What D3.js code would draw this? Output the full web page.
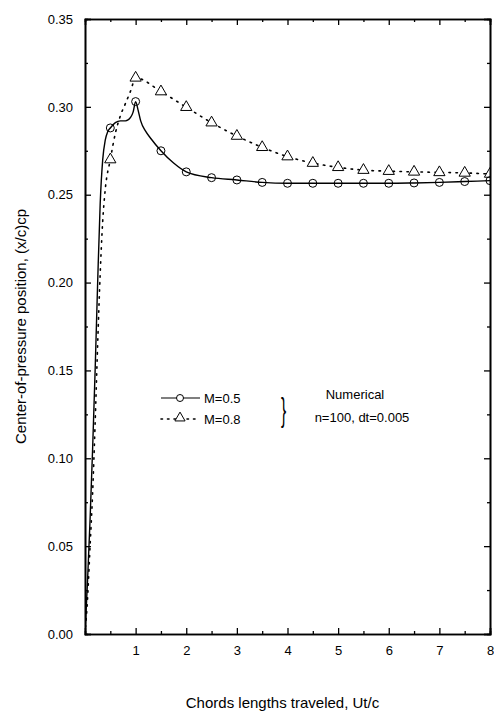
<!DOCTYPE html>
<html>
<head>
<meta charset="utf-8">
<script src="https://cdn.jsdelivr.net/npm/d3@7"></script>
<style>
  body { margin: 0; background: #fff; }
  text { font-family: "Liberation Sans", Arial, sans-serif; fill: #000; }
</style>
</head>
<body>
<div id="chart"></div>
<script>
// M=0.5 line (solid) and markers
var m05X = [0, 0.05, 0.1, 0.15, 0.2, 0.25, 0.3, 0.35, 0.4, 0.45, 0.5, 0.6, 0.7, 0.8, 0.9, 0.95, 1.0, 1.05, 1.1, 1.2, 1.3, 1.5, 1.75, 2, 2.5, 3, 3.5, 4, 4.5, 5, 5.5, 6, 6.5, 7, 7.5, 8];
var m05Y = [0, 0.03, 0.065, 0.105, 0.15, 0.2, 0.245, 0.27, 0.281, 0.286, 0.288, 0.291, 0.292, 0.292, 0.294, 0.297, 0.303, 0.298, 0.292, 0.286, 0.282, 0.275, 0.268, 0.263, 0.2597, 0.2584, 0.257, 0.2565, 0.2565, 0.2565, 0.2565, 0.2565, 0.2567, 0.257, 0.2575, 0.258];
// M=0.8 line (dotted) and markers
var m08X = [0, 0.05, 0.1, 0.15, 0.2, 0.25, 0.3, 0.35, 0.4, 0.5, 0.6, 0.7, 0.8, 0.9, 1.0, 1.5, 2, 2.5, 3, 3.5, 4, 4.5, 5, 5.5, 6, 6.5, 7, 7.5, 8];
var m08Y = [0, 0.02, 0.05, 0.08, 0.12, 0.165, 0.205, 0.235, 0.253, 0.27, 0.285, 0.295, 0.302, 0.309, 0.3165, 0.3087, 0.2998, 0.291, 0.2834, 0.277, 0.2717, 0.268, 0.2656, 0.264, 0.2634, 0.263, 0.2627, 0.2624, 0.2618];
var markerX = [0.5, 1, 1.5, 2, 2.5, 3, 3.5, 4, 4.5, 5, 5.5, 6, 6.5, 7, 7.5, 8];
var xTicks = [1, 2, 3, 4, 5, 6, 7, 8];
var yTicks = [0, 0.05, 0.1, 0.15, 0.2, 0.25, 0.3, 0.35];

var W = 494, H = 713;
var L = 85, R = 490, T = 19, B = 634;
var svg = d3.select("#chart").append("svg").attr("width", W).attr("height", H);

var x = d3.scaleLinear().domain([0, 8]).range([L, R]);
var y = d3.scaleLinear().domain([0, 0.35]).range([B, T]);

function pts(xs, ys) { return xs.map(function(v, i) { return [v, ys[i]]; }); }
var s05 = pts(m05X, m05Y), s08 = pts(m08X, m08Y);
function at(series, v) { return series.find(function(p) { return p[0] === v; }); }

svg.append("clipPath").attr("id", "c").append("rect")
  .attr("x", L).attr("y", T).attr("width", R - L).attr("height", B - T);

var line = d3.line().x(function(d) { return x(d[0]); }).y(function(d) { return y(d[1]); }).curve(d3.curveMonotoneX);
var g = svg.append("g").attr("clip-path", "url(#c)");
g.append("path").attr("d", line(s08)).attr("fill", "none").attr("stroke", "#000")
  .attr("stroke-width", 1.6).attr("stroke-dasharray", "1.5,5.5").attr("stroke-linecap", "round");
g.append("path").attr("d", line(s05)).attr("fill", "none").attr("stroke", "#000").attr("stroke-width", 1.4);

var tri = d3.symbol().type(d3.symbolTriangle).size(55);
g.selectAll(".tri").data(markerX.map(function(v) { return at(s08, v); })).enter().append("path")
  .attr("d", tri).attr("transform", function(d) { return "translate(" + x(d[0]) + "," + y(d[1]) + ")"; })
  .attr("fill", "#fff").attr("stroke", "#000").attr("stroke-width", 1);
g.selectAll(".circ").data(markerX.map(function(v) { return at(s05, v); })).enter().append("circle")
  .attr("cx", function(d) { return x(d[0]); }).attr("cy", function(d) { return y(d[1]); }).attr("r", 4)
  .attr("fill", "none").attr("stroke", "#000").attr("stroke-width", 1);

// axes, ticks inward on all four sides
var xMinor = d3.range(0.5, 8, 1);
var yMinor = d3.range(0.025, 0.35, 0.05);
svg.append("g").attr("transform", "translate(0," + B + ")").call(d3.axisBottom(x).tickValues(xTicks).tickSize(-6).tickPadding(12).tickFormat(d3.format("d")));
svg.append("g").attr("transform", "translate(0," + B + ")").call(d3.axisBottom(x).tickValues(xMinor).tickSize(-3).tickFormat(""));
svg.append("g").attr("transform", "translate(0," + T + ")").call(d3.axisTop(x).tickValues(xTicks).tickSize(-6).tickFormat(""));
svg.append("g").attr("transform", "translate(0," + T + ")").call(d3.axisTop(x).tickValues(xMinor).tickSize(-3).tickFormat(""));
svg.append("g").attr("transform", "translate(" + L + ",0)").call(d3.axisLeft(y).tickValues(yTicks).tickSize(-6).tickPadding(12).tickFormat(d3.format(".2f")));
svg.append("g").attr("transform", "translate(" + L + ",0)").call(d3.axisLeft(y).tickValues(yMinor).tickSize(-3).tickFormat(""));
svg.append("g").attr("transform", "translate(" + R + ",0)").call(d3.axisRight(y).tickValues(yTicks).tickSize(-6).tickFormat(""));
svg.append("g").attr("transform", "translate(" + R + ",0)").call(d3.axisRight(y).tickValues(yMinor).tickSize(-3).tickFormat(""));
svg.selectAll(".domain").attr("stroke-width", 1.6);
svg.selectAll(".tick line").attr("stroke-width", 1.3);
svg.selectAll(".tick text").attr("font-size", 13).attr("font-family", "Liberation Sans, Arial, sans-serif");

svg.append("text").attr("x", (L + R) / 2 - 5).attr("y", 708).attr("text-anchor", "middle").attr("font-size", 15)
  .text("Chords lengths traveled, Ut/c");
svg.append("text").attr("transform", "translate(26," + (T + B) / 2 + ") rotate(-90)").attr("text-anchor", "middle").attr("font-size", 15)
  .text("Center-of-pressure position, (x/c)cp");

// legend
var lg = svg.append("g");
lg.append("line").attr("x1", 161).attr("x2", 200).attr("y1", 398).attr("y2", 398).attr("stroke", "#000").attr("stroke-width", 1.2);
lg.append("circle").attr("cx", 180).attr("cy", 398).attr("r", 3.5).attr("fill", "#fff").attr("stroke", "#000");
lg.append("line").attr("x1", 161).attr("x2", 200).attr("y1", 419).attr("y2", 419).attr("stroke", "#000").attr("stroke-width", 1.6)
  .attr("stroke-dasharray", "1.5,5").attr("stroke-linecap", "round");
lg.append("path").attr("d", d3.symbol().type(d3.symbolTriangle).size(45)).attr("transform", "translate(180,418)")
  .attr("fill", "#fff").attr("stroke", "#000");
lg.append("text").attr("x", 204).attr("y", 403).attr("font-size", 13).text("M=0.5");
lg.append("text").attr("x", 204).attr("y", 424).attr("font-size", 13).text("M=0.8");
lg.append("text").attr("transform", "translate(281,421) scale(0.6,1.3)").attr("font-size", 26)
  .attr("font-family", "Liberation Serif").text("}");
lg.append("text").attr("x", 355).attr("y", 399).attr("text-anchor", "middle").attr("font-size", 13).text("Numerical");
lg.append("text").attr("x", 362).attr("y", 422).attr("text-anchor", "middle").attr("font-size", 13).text("n=100, dt=0.005");
</script>
</body>
</html>
